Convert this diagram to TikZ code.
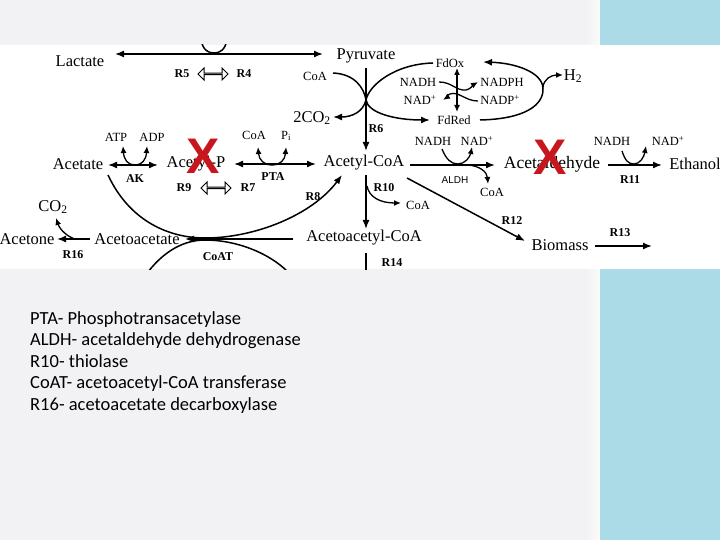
\documentclass[tikz,border=0pt]{standalone}
\usepackage{fontspec}
\setmainfont{Liberation Serif}
\newfontfamily\listfont{Carlito}
\newfontfamily\arialfont{Liberation Sans}
\usetikzlibrary{arrows.meta,shapes.arrows}
\definecolor{bggray}{RGB}{242,242,244}
\definecolor{bgblue}{RGB}{170,219,230}
\definecolor{xred}{RGB}{200,22,30}
\begin{document}
\begin{tikzpicture}[x=1pt,y=-1pt,
  lbl/.style={inner sep=0pt, font=\fontsize{16.5}{16.5}\selectfont},
  sm/.style={inner sep=0pt, font=\fontsize{12.5}{12.5}\selectfont},
  rl/.style={inner sep=0pt, font=\fontsize{12}{12}\selectfont\bfseries},
  ln/.style={line width=1.5pt},
  arr/.style={line width=1.5pt, -{Latex[length=9pt,width=7pt]}},
  darr/.style={line width=1.5pt, {Latex[length=9pt,width=7pt]}-{Latex[length=9pt,width=7pt]}},
  sarr/.style={line width=1.3pt, -{Latex[length=7pt,width=6pt]}},
  sdarr/.style={line width=1.3pt, {Latex[length=7pt,width=6pt]}-{Latex[length=7pt,width=6pt]}},
  hollow/.style={double arrow, draw, line width=1pt, fill=white, minimum width=12pt, minimum height=30pt, double arrow head extend=3.5pt, inner sep=0pt},
  bigx/.style={inner sep=0pt, text=xred, font=\arialfont\bfseries\fontsize{50}{50}\selectfont},
]
\useasboundingbox (0,0) rectangle (720,540);
% background
\fill[bggray] (0,0) rectangle (720,540);
\shade[left color=bggray, right color=white!70!bggray] (586,0) rectangle (600,540);
\fill[bgblue] (600,0) rectangle (720,540);
\fill[white] (0,45) rectangle (720,269);

\begin{scope}
\clip (0,45) rectangle (720,269);
% nodes
\node[lbl] (lact) at (80,61) {Lactate};
\node[lbl] (pyr) at (366,56) {Pyruvate};
\node[rl] (r5) at (182,74) {R5};
\node[hollow] (d54) at (213,74) {};
\node[rl] (r4) at (244,74) {R4};
\node[sm] (coa1) at (315,76) {CoA};
\node[lbl] (co2a) at (312,118) {2CO\textsubscript{2}};
\node[rl] (r6) at (376,129) {R6};
\node[sm] (fdox) at (450,63) {FdOx};
\node[sm] (nadh1) at (418,82) {NADH};
\node[sm] (nadph) at (502,82) {NADPH};
\node[sm] (nad1) at (420,100) {NAD\textsuperscript{+}};
\node[sm] (nadp) at (500,100) {NADP\textsuperscript{+}};
\node[sm] (fdred) at (454,120) {FdRed};
\node[lbl] (h2) at (573,76) {H\textsubscript{2}};

\node[lbl] (acet) at (78,164) {Acetate};
\node[sm] (atp) at (116,137) {ATP};
\node[sm] (adp) at (152,137) {ADP};
\node[rl] (ak) at (135,179) {AK};
\node[lbl] (acp) at (196,164) {Acetyl-P};
\node[sm] (coa2) at (254,135) {CoA};
\node[sm] (pi) at (286,136) {P\textsubscript{i}};
\node[rl] (pta) at (273,177) {PTA};
\node[rl] (r9) at (184,188) {R9};
\node[hollow] (d97) at (216,188) {};
\node[rl] (r7) at (248,188) {R7};
\node[lbl] (acoa) at (364,163) {Acetyl-CoA};
\node[sm] (nadh2) at (433,141) {NADH};
\node[sm] (nad2) at (477,141) {NAD\textsuperscript{+}};
\node[inner sep=0pt, font=\arialfont\fontsize{10}{10}\selectfont] (aldh) at (455,180) {ALDH};
\node[sm] (coa3) at (492,192) {CoA};
\node[inner sep=0pt, font=\fontsize{17.5}{17.5}\selectfont] (ald) at (552,164) {Acetaldehyde};
\node[sm] (nadh3) at (612,141) {NADH};
\node[sm] (nad3) at (668,141) {NAD\textsuperscript{+}};
\node[rl] (r11) at (630,180) {R11};
\node[lbl] (eth) at (695,164) {Ethanol};
\node[rl] (r8) at (313,197) {R8};
\node[rl] (r10) at (384,188) {R10};
\node[sm] (coa4) at (418,205) {CoA};
\node[rl] (r12) at (512,221) {R12};
\node[lbl] (bio) at (560,245) {Biomass};
\node[rl] (r13) at (620,233) {R13};
\node[lbl] (co2b) at (53,207) {CO\textsubscript{2}};
\node[lbl] (acetone) at (27,239) {Acetone};
\node[rl] (r16) at (73,255) {R16};
\node[lbl] (aca) at (137,239) {Acetoacetate};
\node[rl] (coat) at (218,257) {CoAT};
\node[lbl] (aacoa) at (364,238) {Acetoacetyl-CoA};
\node[rl] (r14) at (392,263) {R14};

% connectors
\draw[ln] (201,40) .. controls (203,50) and (208,53) .. (214,53) .. controls (220,53) and (225,50) .. (227,40);
\draw[darr] (115,54) -- (323,54);
\draw[arr] (333,73) .. controls (355,74) and (364,88) .. (366,100) .. controls (368,113) and (395,120) .. (430,120);
\draw[arr] (433,63) .. controls (395,64) and (369,85) .. (366,100) .. controls (363,112) and (352,117) .. (333,117);
\draw[arr] (366,68) -- (366,151);
\draw[sdarr] (457,68) -- (457,112);
\draw[sarr] (439,82) .. controls (452,82) and (456,91) .. (466,90) .. controls (471,89) and (473,85) .. (478,82);
\draw[sarr] (478,101) .. controls (465,101) and (459,91) .. (450,94) .. controls (447,95) and (446,98) .. (443,100);
\draw[arr] (480,120) .. controls (525,119) and (544,105) .. (543,88) .. controls (542,72) and (515,63) .. (483,62);
\draw[sarr] (543,87) .. controls (544,79) and (551,75) .. (563,75);

\draw[darr] (108,165) -- (158,165);
\draw[sdarr] (123,146) .. controls (124,160) and (128,165) .. (135,165) .. controls (142,165) and (146,160) .. (147,146);
\draw[darr] (234,164) -- (316,164);
\draw[sdarr] (258,147) .. controls (259,160) and (264,165) .. (272,165) .. controls (280,165) and (285,160) .. (286,147);

\draw[arr] (410,165) -- (495,165);
\draw[sarr] (442,149) .. controls (446,159) and (451,164) .. (458,164) .. controls (465,164) and (470,157) .. (472,147);
\draw[sarr] (468,165) .. controls (480,166) and (487,172) .. (488,184);
\draw[arr] (608,165) -- (662,165);
\draw[sarr] (622,151) .. controls (625,160) and (628,164) .. (634,164) .. controls (640,164) and (644,157) .. (646,146);

\draw[arr] (366,175) -- (366,229);
\draw[sarr] (367,186) .. controls (369,197) and (380,203) .. (401,203);
\draw[arr] (407,178) -- (525,241);
\draw[arr] (595,246) -- (652,246);
\draw[ln] (366,253) -- (366,272);

\draw[arr] (108,175) .. controls (130,222) and (170,238) .. (205,238) .. controls (255,238) and (312,215) .. (342,175);
\draw[ln] (148,272) .. controls (165,250) and (185,240) .. (205,240) .. controls (235,240) and (268,252) .. (288,272);
\draw[arr] (293,239) -- (185,239);
\draw[arr] (90,239) -- (57,239);
\draw[sarr] (75,239) .. controls (68,237) and (60,230) .. (56,218);

% red crosses
\node[bigx] (x1) at (203,156) {X};
\node[bigx] (x2) at (550,157) {X};
\end{scope}

% legend
\node[anchor=north west, align=left, inner sep=0pt, font=\listfont\fontsize{18.5}{21.5}\selectfont] (legend) at (30,311) {PTA- Phosphotransacetylase\\ALDH- acetaldehyde dehydrogenase\\R10- thiolase\\CoAT- acetoacetyl-CoA transferase\\R16- acetoacetate decarboxylase};
\end{tikzpicture}
\end{document}
